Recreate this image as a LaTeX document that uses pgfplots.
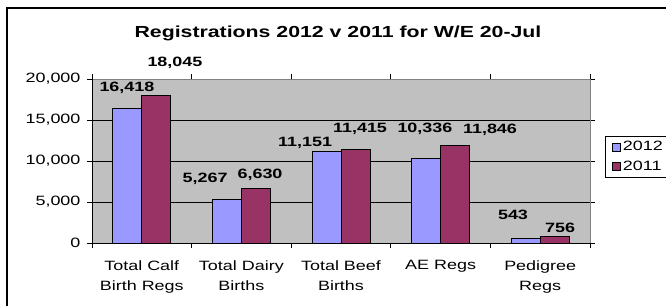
\documentclass[border=0pt]{standalone}
\usepackage{pgfplots}
\pgfplotsset{compat=1.18}
\usepackage{fontspec}
\setmainfont{Liberation Sans}[FakeStretch=1.33]
\definecolor{cA}{HTML}{9999FF}
\definecolor{cB}{HTML}{993366}
\definecolor{bg}{HTML}{C0C0C0}
\definecolor{bd}{HTML}{808080}
\newcommand{\tk}{\fontsize{13.5}{20}\selectfont}
\newcommand{\lb}{\fontsize{13.5}{16}\selectfont\bfseries}
\begin{document}
\begin{tikzpicture}[x=1pt,y=1pt]
\useasboundingbox (0,0) rectangle (666,305);
\clip (0,0) rectangle (666,305);
\draw[black,line width=1.2pt] (7,-20) rectangle (700,297);
\node[font=\fontsize{16}{19}\selectfont\bfseries] at (338,272) {Registrations 2012 v 2011 for W/E 20-Jul};
\begin{axis}[
  at={(92pt,62pt)}, anchor=south west,
  scale only axis, width=498pt, height=164pt,
  ybar=0pt, bar width=29pt,
  xmin=-0.5, xmax=4.5, ymin=0, ymax=20000,
  clip=false,
  axis background/.style={fill=bg},
  axis line style={draw=bd, line width=0.8pt},
  ytick={0,5000,10000,15000,20000},
  scaled y ticks=false,
  /pgf/number format/.cd, 1000 sep={,}, assume math mode=true, /pgfplots/.cd,
  yticklabel style={font=\tk, xshift=-3pt},
  ymajorgrids, major grid style={black, line width=0.8pt},
  tick align=outside, major tick length=5pt,
  ytick style={black, line width=0.8pt},
  xtick={0,1,2,3,4},
  xtick style={draw=none},
  xticklabels={{Total Calf\\Birth Regs},{Total Dairy\\Births},{Total Beef\\Births},{AE Regs},{Pedigree\\Regs}},
  xticklabel style={font=\tk, align=center, anchor=north, yshift=-9pt},
  extra x ticks={-0.5,0.5,1.5,2.5,3.5,4.5},
  extra x tick labels={},
  extra x tick style={xtick style={draw=black, line width=0.8pt}, major tick length=5pt, tick align=outside},
  legend style={at={(1.0301,0.6524)}, anchor=north west, draw=black, line width=0.8pt, fill=white, font=\tk, inner xsep=7pt, inner ysep=3pt, row sep=5pt, legend cell align=left},
  after end axis/.code={\draw[black,line width=0.8pt] (rel axis cs:0,1) -- (rel axis cs:0,0) -- (rel axis cs:1,0);},
]
\addplot[fill=cA, draw=black, line width=0.8pt, legend image code/.code={\draw[fill=cA,draw=black,line width=0.6pt] (0pt,-4pt) rectangle (8pt,4pt);}] coordinates {(0,16418) (1,5267) (2,11151) (3,10336) (4,543)};
\addplot[fill=cB, draw=black, line width=0.8pt, legend image code/.code={\draw[fill=cB,draw=black,line width=0.6pt] (0pt,-4pt) rectangle (8pt,4pt);}] coordinates {(0,18045) (1,6630) (2,11415) (3,11846) (4,756)};
\legend{2012,2011}
\node[font=\lb] at (axis cs:-0.149,18902) {16,418};
\node[font=\lb] at (axis cs:0.333,21951) {18,045};
\node[font=\lb] at (axis cs:0.635,7805) {5,267};
\node[font=\lb] at (axis cs:1.187,8293) {6,630};
\node[font=\lb] at (axis cs:1.639,12195) {11,151};
\node[font=\lb] at (axis cs:2.191,13902) {11,415};
\node[font=\lb] at (axis cs:2.843,13902) {10,336};
\node[font=\lb] at (axis cs:3.496,13780) {11,846};
\node[font=\lb] at (axis cs:3.727,3415) {543};
\node[font=\lb] at (axis cs:4.199,1829) {756};
\end{axis}
\end{tikzpicture}
\end{document}
